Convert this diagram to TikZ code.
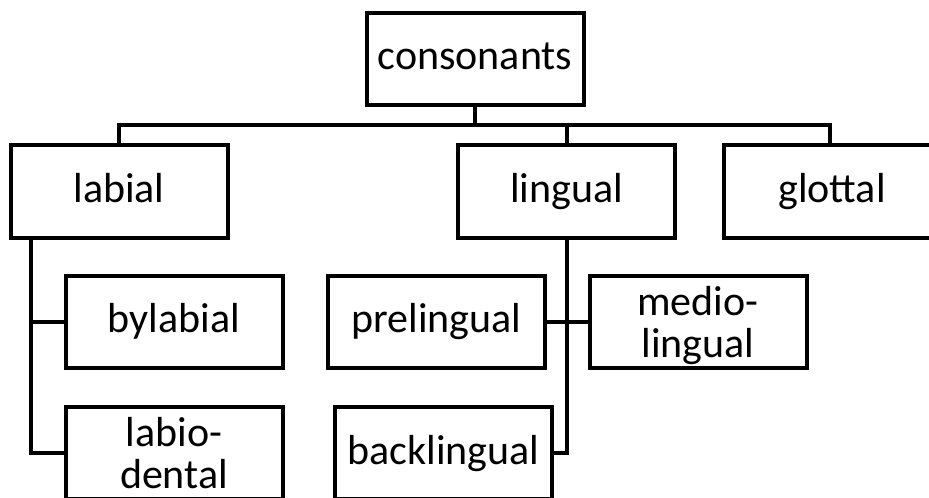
\documentclass[tikz,border=0pt]{standalone}
\usepackage{fontspec}
\setmainfont{Carlito}
\usepackage{tikz}
\usetikzlibrary{positioning,calc}

\tikzset{
    catbox/.style={draw, line width=2pt, minimum width=108.5pt, minimum height=46pt,
        inner sep=0pt, align=center, text depth=0pt,
        font=\fontsize{21pt}{21pt}\selectfont},
    oneline/.style={catbox, text height=11pt},
    link/.style={line width=2pt}
}

\begin{document}
\begin{tikzpicture}[x=0.5pt, y=-0.5pt]
        \useasboundingbox (0,0) rectangle (929,497);

        % Root
        \node[oneline] (cons) at (475,59) {consonants};
        \coordinate (bus) at (475,125);

        % Main classes
        \node[oneline] (labial) at (119,191.5) {labial};
        \node[oneline] (lingual) at (566.5,191.5) {lingual};
        \node[oneline] (glottal) at (832,191.5) {glottal};

        % Sub classes
        \node[oneline] (bylab) at (174,321.5) {bylabial};
        \node[catbox] (labdent) at (174,453) {labio-\\dental};
        \node[oneline] (preling) at (436.5,321.5) {prelingual};
        \node[catbox] (medling) at (698,321.5) {medio-\\lingual};
        \node[oneline] (backling) at (443.5,453) {backlingual};

        % Tree lines
        \draw[link] (cons.south) -- (bus) -| (labial.north);
        \draw[link] (bus) -| (lingual.north);
        \draw[link] (bus) -| ([xshift=-1pt]glottal.north);

        \coordinate (labtrunk) at ([xshift=11pt]labial.south west);
        \draw[link] (labtrunk) |- (bylab.west);
        \draw[link] (labtrunk) |- (labdent.west);

        \draw[link] (lingual.south) |- (backling.east);
        \draw[link] (preling.east) -- (medling.west);
\end{tikzpicture}
\end{document}
